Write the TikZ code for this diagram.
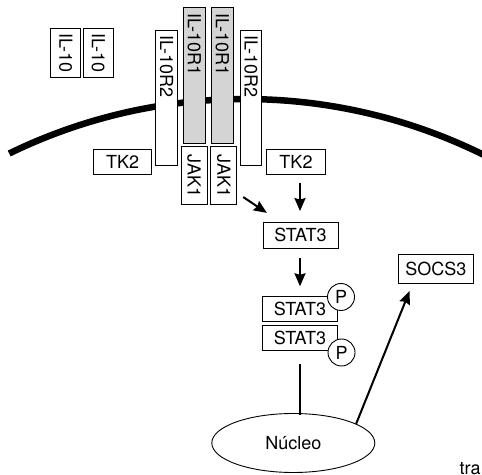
\documentclass[tikz,border=0pt]{standalone}
\usepackage{fontspec}
\setmainfont{TeX Gyre Heros}
\usetikzlibrary{arrows.meta,shapes.geometric}
\definecolor{recgray}{gray}{0.83}
\begin{document}
\begin{tikzpicture}[x=1pt,y=1pt,
  every node/.style={font=\fontsize{18}{20}\selectfont},
  box/.style={draw,line width=0.9pt,fill=white,inner sep=0pt},
  vbox/.style={box,rotate=-90},
  longbox/.style={draw,line width=0.9pt,rotate=-90,align=left,inner ysep=0pt},
  pcirc/.style={draw,circle,line width=0.9pt,fill=white,minimum size=27pt,inner sep=0pt},
  arr/.style={line width=2pt,-{Stealth[length=13pt,width=11pt,inset=1.5pt]}},
  conn/.style={line width=2pt}]
\useasboundingbox (0,0) rectangle (482,474);
% membrane
\draw[line width=6.5pt] (9.2,320.5) arc[start angle=116, end angle=62, radius=538];
% ligands
\node[vbox,minimum width=49.4pt,minimum height=30pt] (il10a) at (65.7,421) {IL-10};
\node[vbox,minimum width=49.4pt,minimum height=30pt] (il10b) at (98.2,421) {IL-10};
% receptors
\node[longbox,fill=white,text width=124.4pt,inner xsep=5.5pt,minimum height=21.6pt] (r2l) at (166.5,376) {IL-10R2};
\node[longbox,fill=recgray,text width=123pt,inner xsep=6.5pt,minimum height=22pt] (r1l) at (194.3,398.7) {IL-10R1};
\node[longbox,fill=recgray,text width=123pt,inner xsep=6.5pt,minimum height=22pt] (r1r) at (222.3,398.7) {IL-10R1};
\node[longbox,fill=white,text width=124.4pt,inner xsep=5.5pt,minimum height=21.6pt] (r2r) at (251,376) {IL-10R2};
% kinases
\node[box,minimum width=58pt,minimum height=25.3pt] (tk2l) at (122.7,312.3) {TK2};
\node[vbox,minimum width=58.3pt,minimum height=26pt] (jak1l) at (194,298.2) {JAK1};
\node[vbox,minimum width=58.3pt,minimum height=26pt] (jak1r) at (223.8,298.2) {JAK1};
\node[box,minimum width=58.6pt,minimum height=25pt] (tk2r) at (296,312.2) {TK2};
% STAT3
\node[box,minimum width=75pt,minimum height=25.5pt] (stat3) at (300.5,238.7) {STAT3};
\node[box,minimum width=74.6pt,minimum height=25.3pt] (stat3a) at (300,165.3) {STAT3};
\node[box,minimum width=74.6pt,minimum height=25.3pt] (stat3b) at (300,136.3) {STAT3};
\node[pcirc] (pa) at (341,177) {P};
\node[pcirc] (pb) at (341.5,121.5) {P};
% SOCS3
\node[box,minimum width=75pt,minimum height=29pt] (socs3) at (435.8,205.3) {SOCS3};
% nucleus
\node[draw,ellipse,line width=0.9pt,minimum width=163pt,minimum height=59pt,inner sep=0pt] (nucleo) at (293.3,31) {Núcleo};
% partial text (cut by the picture's edge, as in the reference)
\node[anchor=base west,inner sep=0pt] (tra) at (459.5,0) {tra};
% arrows
\draw[arr] ([xshift=4pt,yshift=-8pt]tk2r.south) -- ([xshift=-0.5pt,yshift=11pt]stat3.north);
\draw[arr] ([xshift=6pt,yshift=8.3pt]jak1r.north east) -- ([xshift=4.3pt,yshift=9.2pt]stat3.north west);
\draw[arr] ([xshift=-0.5pt,yshift=-9.3pt]stat3.south) -- ([yshift=9.3pt]stat3a.north);
\draw[conn] ([yshift=-13pt]stat3b.south) -- ([xshift=6.7pt,yshift=-1.5pt]nucleo.north);
\draw[arr] (nucleo.17) -- ([xshift=11.7pt,yshift=-7.4pt]socs3.south west);
\end{tikzpicture}
\end{document}
